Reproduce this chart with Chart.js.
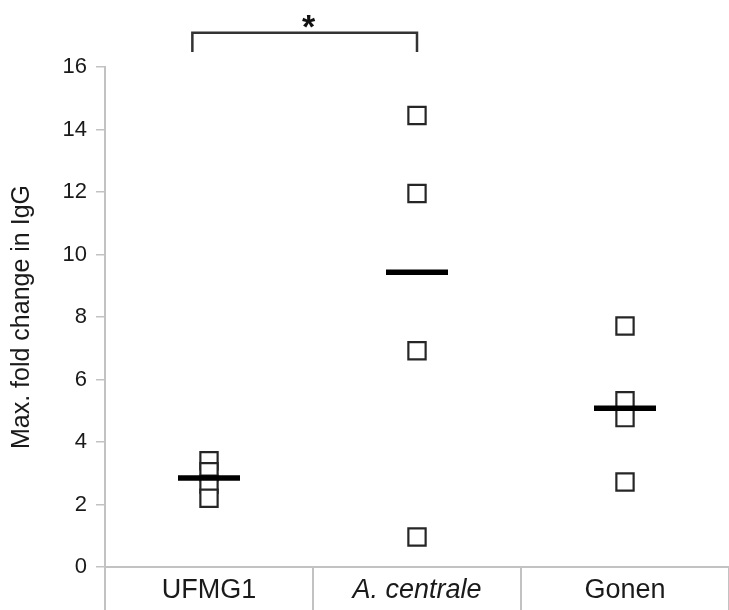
<!DOCTYPE html>
<html>
<head>
<meta charset="utf-8">
<script src="https://cdn.jsdelivr.net/npm/chart.js@4/dist/chart.umd.min.js"></script>
<style>
  html, body { margin: 0; padding: 0; background: #fff; }
  #wrap { width: 729px; height: 610px; }
</style>
</head>
<body>
<div id="wrap"><canvas id="iggChart" width="729" height="610"></canvas></div>
<script>
// Groups and individual max fold change values
const groups = ['UFMG1', 'A. centrale', 'Gonen'];
const ufmg1Values = [3.4, 3.05, 2.65, 2.2];
const centraleValues = [14.45, 11.95, 6.92, 0.96];
const gonenValues = [7.71, 5.32, 4.78, 2.72];
const medianValues = [2.85, 9.43, 5.08];
const yTicks = [0, 2, 4, 6, 8, 10, 12, 14, 16];

// significance bracket between the first two groups
const bracket = { from: 0, to: 1, y: 17.1, drop: 0.62, label: '*' };

const fontFamily = '"Liberation Sans", Arial, sans-serif';
const axisGray = '#c2c2c2';

const points = [];
[ufmg1Values, centraleValues, gonenValues].forEach((vals, i) => {
  vals.forEach(v => points.push({ x: groups[i], y: v }));
});
const medians = medianValues.map((v, i) => ({ x: groups[i], y: v }));

// draws the bracket and star above the plot
const bracketPlugin = {
  id: 'bracket',
  afterDraw(chart) {
    const { ctx, scales: { x, y } } = chart;
    const x1 = x.getPixelForValue(bracket.from - 0.08);
    const x2 = x.getPixelForValue(bracket.to);
    const yTop = y.getPixelForValue(bracket.y);
    const yLeg = y.getPixelForValue(bracket.y - bracket.drop);
    ctx.save();
    ctx.strokeStyle = '#333';
    ctx.lineWidth = 2.5;
    ctx.beginPath();
    ctx.moveTo(x1, yLeg);
    ctx.lineTo(x1, yTop);
    ctx.lineTo(x2, yTop);
    ctx.lineTo(x2, yLeg);
    ctx.stroke();
    ctx.fillStyle = '#111';
    ctx.font = 'bold 34px ' + fontFamily;
    ctx.textAlign = 'center';
    ctx.textBaseline = 'middle';
    ctx.fillText(bracket.label, (x1 + x2) / 2 + 4, yTop - 4);
    ctx.restore();
  }
};

new Chart(document.getElementById('iggChart'), {
  type: 'scatter',
  data: {
    labels: groups,
    datasets: [
      {
        label: 'medians',
        data: medians,
        pointStyle: 'line',
        pointRadius: 31,
        pointBorderWidth: 5.5,
        borderColor: '#000',
        backgroundColor: '#000',
        order: 0
      },
      {
        label: 'values',
        data: points,
        pointStyle: 'rect',
        pointRadius: 12.2,
        pointBorderWidth: 2.2,
        borderColor: '#262626',
        backgroundColor: '#fff',
        order: 1
      }
    ]
  },
  options: {
    responsive: false,
    animation: false,
    events: [],
    layout: { autoPadding: false, padding: { top: 67, left: 0, right: 0, bottom: 0 } },
    plugins: {
      legend: { display: false },
      tooltip: { enabled: false }
    },
    scales: {
      x: {
        type: 'category',
        labels: groups,
        offset: true,
        afterFit: s => {
          s.height = 43;
          s.paddingLeft = 0;
          s.paddingRight = 0;
        },
        border: { display: true, color: axisGray, width: 2 },
        grid: {
          offset: true,
          drawOnChartArea: false,
          drawTicks: true,
          tickLength: 43,
          lineWidth: 2,
          color: ctx => ctx.index === groups.length ? 'rgba(0,0,0,0)' : axisGray
        },
        ticks: {
          padding: -36,
          color: '#1a1a1a',
          font: ctx => ({
            family: fontFamily,
            size: 27,
            style: ctx.index === 1 ? 'italic' : 'normal'
          })
        }
      },
      y: {
        min: 0,
        max: 16,
        afterFit: s => { s.width = 105; },
        afterBuildTicks: s => { s.ticks = yTicks.map(v => ({ value: v })); },
        border: { display: true, color: axisGray, width: 2 },
        grid: {
          drawOnChartArea: false,
          drawTicks: true,
          tickLength: 9,
          lineWidth: 1.5,
          color: axisGray
        },
        ticks: {
          padding: 9,
          color: '#1a1a1a',
          font: { family: fontFamily, size: 22 }
        },
        title: {
          display: true,
          text: 'Max. fold change in IgG',
          color: '#1a1a1a',
          font: { family: fontFamily, size: 25 },
          padding: { top: 7, bottom: 0 }
        }
      }
    }
  },
  plugins: [bracketPlugin]
});
</script>
</body>
</html>
